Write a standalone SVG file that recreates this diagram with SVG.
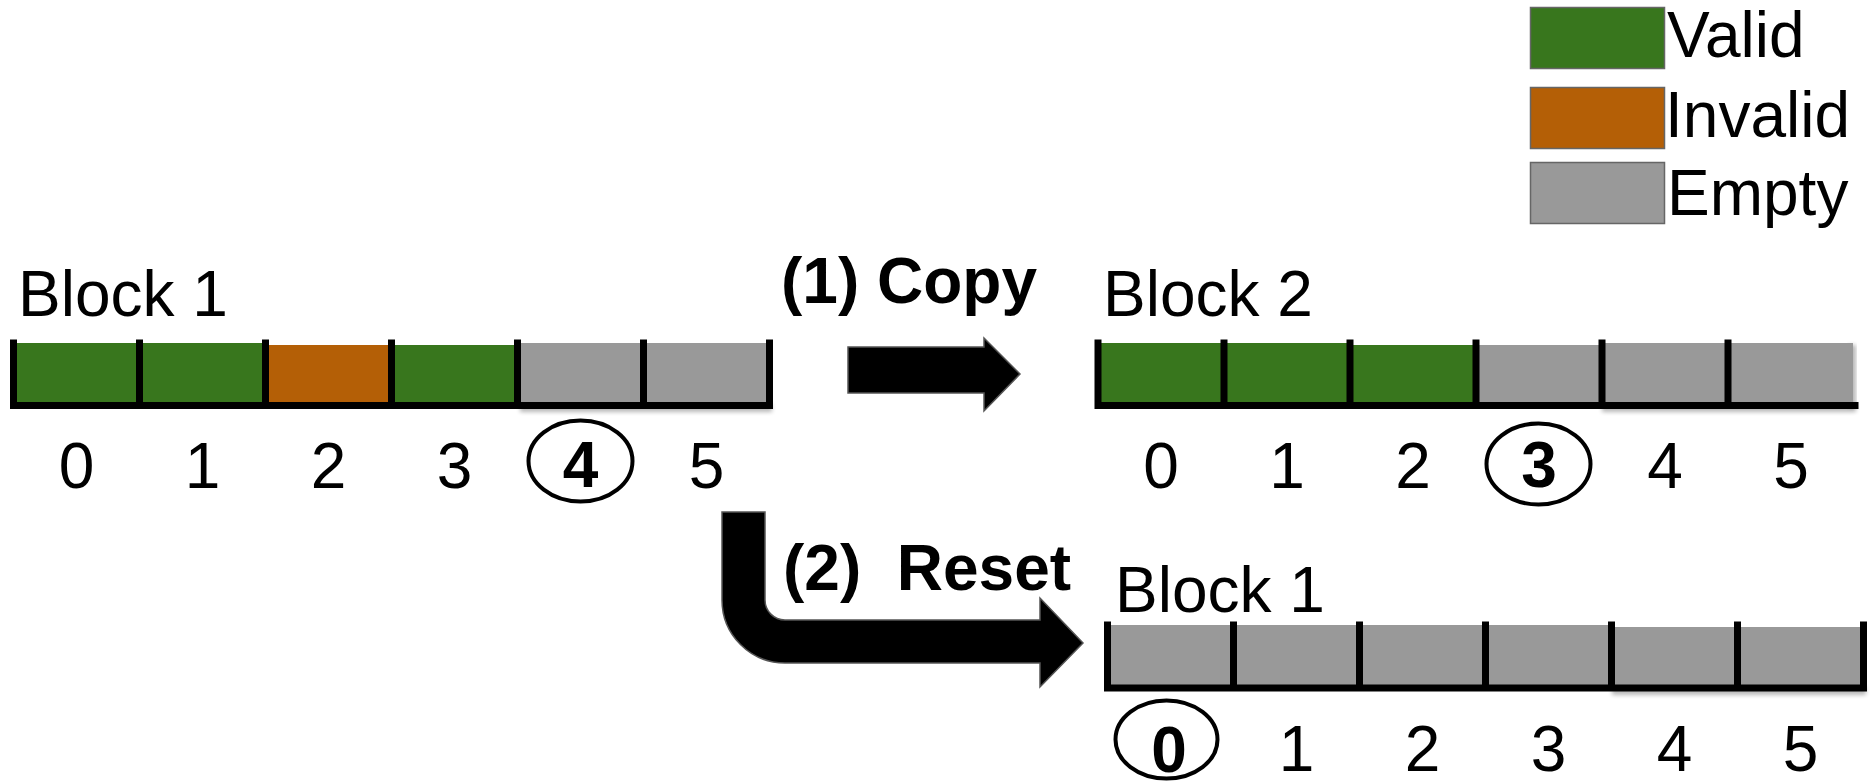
<svg xmlns="http://www.w3.org/2000/svg" width="1872" height="781" viewBox="0 0 1872 781">
  <defs>
    <style>
      text { font-family: "Liberation Sans", Arial, sans-serif; font-size: 64px; fill: #000; }
      .num { text-anchor: middle; }
      .bold { font-weight: bold; }
      .valid { fill: #38761d; }
      .invalid { fill: #b45f06; }
      .empty { fill: #999999; }
      .key { stroke: #666666; stroke-width: 1.5; }
      .edge { stroke: #000; stroke-width: 7; fill: none; stroke-linecap: square; }
      .mark { fill: none; stroke: #000; stroke-width: 4; }
      .arrow { fill: #000; stroke: #555555; stroke-width: 1.5; stroke-linejoin: miter; }
      .shade { fill: #000; opacity: 0.28; }
    </style>
    <filter id="soft" x="-10%" y="-200%" width="120%" height="500%">
      <feGaussianBlur stdDeviation="2.2"/>
    </filter>
  </defs>

  <rect width="1872" height="781" fill="#ffffff"/>

  <!-- legend -->
  <g id="legend">
    <rect class="valid key" x="1530.5" y="7.5" width="134" height="61"/>
    <rect class="invalid key" x="1530.5" y="87.5" width="134" height="61"/>
    <rect class="empty key" x="1530.5" y="162.5" width="134" height="61"/>
    <text x="1667" y="57">Valid</text>
    <text x="1665" y="137">Invalid</text>
    <text x="1667" y="215">Empty</text>
  </g>

  <!-- Block 1, before garbage collection -->
  <g id="block1-before">
    <text x="18" y="316">Block 1</text>
    <rect class="shade" x="520" y="404" width="252" height="8" filter="url(#soft)"/>
    <rect class="valid" x="13.5" y="343" width="126" height="60"/>
    <rect class="valid" x="139.5" y="343" width="126" height="60"/>
    <rect class="invalid" x="265.5" y="345" width="126" height="58"/>
    <rect class="valid" x="391.5" y="345" width="126" height="58"/>
    <rect class="empty" x="517.5" y="343" width="126" height="60"/>
    <rect class="empty" x="643.5" y="343" width="126" height="60"/>
    <path class="edge" d="M13.5 343V405.5H769.5V343M139.5 343V405.5M265.5 343V405.5M391.5 343V405.5M517.5 343V405.5M643.5 343V405.5"/>
    <text class="num" x="76.5" y="488">0</text>
    <text class="num" x="202.5" y="488">1</text>
    <text class="num" x="328.5" y="488">2</text>
    <text class="num" x="454.5" y="488">3</text>
    <ellipse class="mark" cx="580.5" cy="461" rx="52" ry="40.5"/>
    <text class="num bold" x="580.5" y="487">4</text>
    <text class="num" x="706.5" y="488">5</text>
  </g>

  <!-- Block 2, after the copy -->
  <g id="block2">
    <text x="1103" y="316">Block 2</text>
    <rect class="shade" x="1602" y="404" width="254" height="8" filter="url(#soft)"/>
    <rect class="shade" x="1848" y="345" width="8" height="62" filter="url(#soft)"/>
    <rect class="valid" x="1098" y="343" width="126" height="60"/>
    <rect class="valid" x="1224" y="343" width="126" height="60"/>
    <rect class="valid" x="1350" y="345" width="126" height="58"/>
    <rect class="empty" x="1476" y="345" width="126" height="58"/>
    <rect class="empty" x="1602" y="343" width="126" height="60"/>
    <rect class="empty" x="1728" y="343" width="125" height="60"/>
    <path class="edge" d="M1098 343V405.5H1855M1224 343V405.5M1350 343V405.5M1476 343V405.5M1602 343V405.5M1728 343V405.5"/>
    <text class="num" x="1161" y="488">0</text>
    <text class="num" x="1287" y="488">1</text>
    <text class="num" x="1413" y="488">2</text>
    <ellipse class="mark" cx="1538.5" cy="464" rx="52" ry="40.5"/>
    <text class="num bold" x="1539" y="487">3</text>
    <text class="num" x="1665" y="488">4</text>
    <text class="num" x="1791" y="488">5</text>
  </g>

  <!-- Block 1, after the reset -->
  <g id="block1-after">
    <text x="1115" y="612">Block 1</text>
    <rect class="shade" x="1612" y="687" width="254" height="8" filter="url(#soft)"/>
    <rect class="empty" x="1107.5" y="625" width="126" height="60"/>
    <rect class="empty" x="1233.5" y="625" width="126" height="60"/>
    <rect class="empty" x="1359.5" y="625" width="126" height="60"/>
    <rect class="empty" x="1485.5" y="625" width="126" height="60"/>
    <rect class="empty" x="1611.5" y="627" width="126" height="58"/>
    <rect class="empty" x="1737.5" y="627" width="126" height="58"/>
    <path class="edge" d="M1107.5 625V688H1863.5V625M1233.5 625V688M1359.5 625V688M1485.5 625V688M1611.5 625V688M1737.5 625V688"/>
    <ellipse class="mark" cx="1166.5" cy="739.5" rx="51" ry="39"/>
    <text class="num bold" x="1169" y="772">0</text>
    <text class="num" x="1296.5" y="771">1</text>
    <text class="num" x="1422.5" y="771">2</text>
    <text class="num" x="1548.5" y="771">3</text>
    <text class="num" x="1674.5" y="771">4</text>
    <text class="num" x="1800.5" y="771">5</text>
  </g>

  <!-- connectors -->
  <g id="connectors">
    <g id="copy">
      <path class="arrow" d="M848 347H984V338L1020 374L984 411V393H848Z"/>
      <text class="bold" x="781" y="303">(1) Copy</text>
    </g>
    <g id="reset">
      <path class="arrow" d="M722 512H765V600A20 20 0 0 0 785 620H1040V598L1083 643L1040 687V663H785A63 63 0 0 1 722 600Z"/>
      <text class="bold" x="783" y="590" xml:space="preserve">(2)  Reset</text>
    </g>
  </g>
</svg>
